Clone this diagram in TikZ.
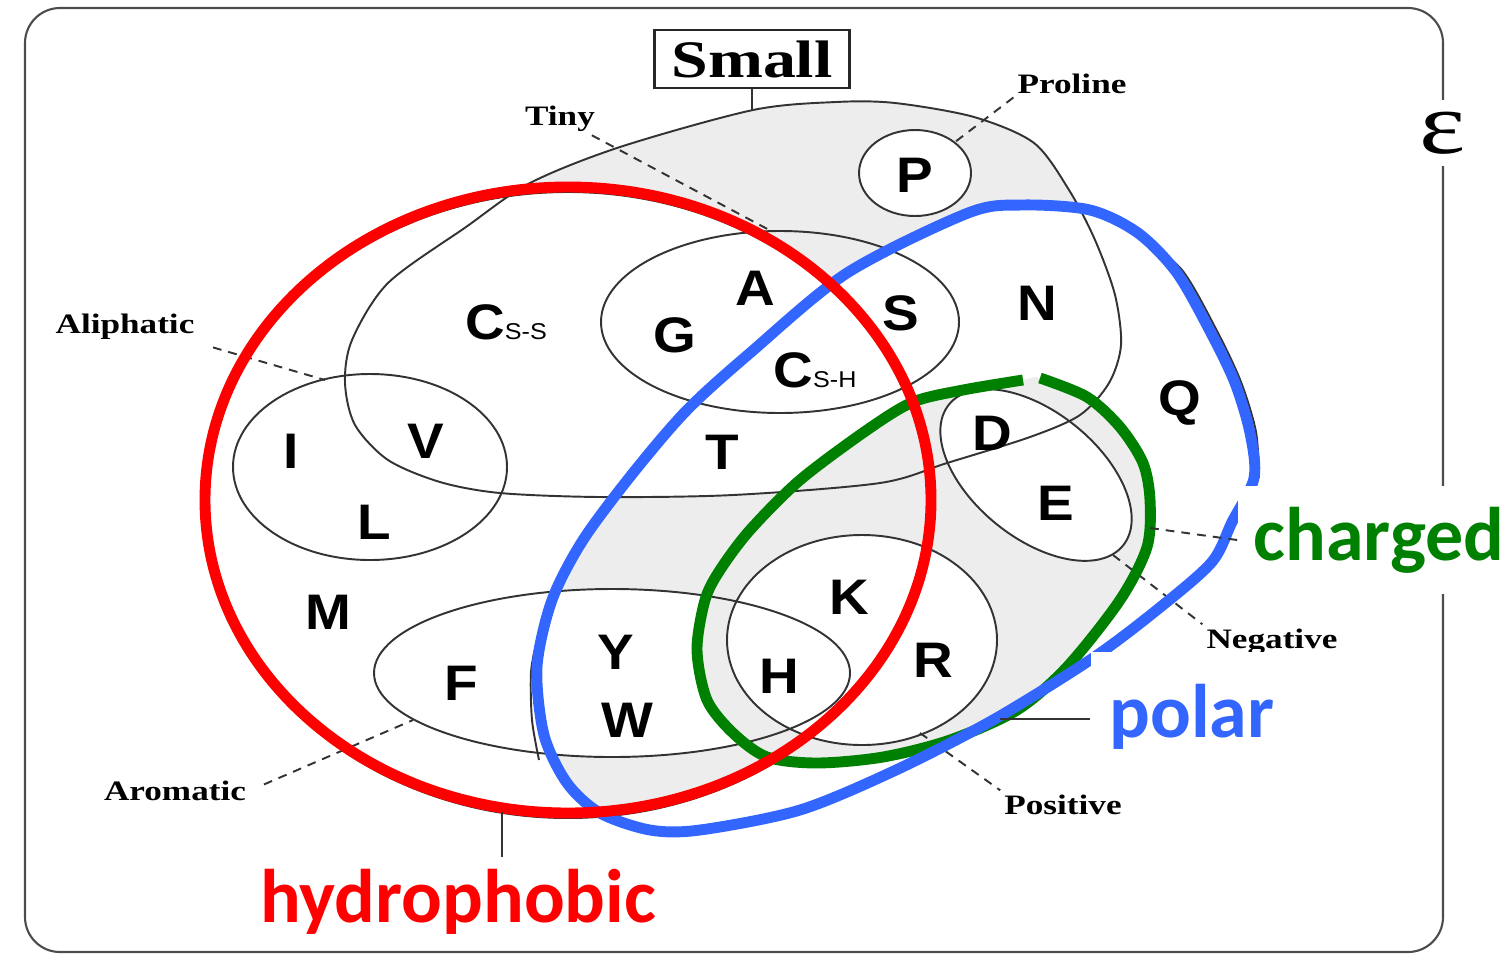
\documentclass[tikz,border=0pt]{standalone}
\usepackage{fontspec}
\usepackage{tikz}
\usetikzlibrary{positioning}
\setmainfont{Liberation Serif}
\newfontfamily\aafont[FakeStretch=1.1]{Liberation Sans}
\newfontfamily\lblfont[FakeStretch=1.25]{Liberation Serif}
\newfontfamily\tagfont{Carlito}
\definecolor{hphob}{HTML}{FF0000}
\definecolor{polcol}{HTML}{3366FF}
\definecolor{chcol}{HTML}{008000}
\definecolor{vacant}{HTML}{EDEDED}
\newcommand{\smallset}{plot[smooth cycle] coordinates {(753,110) (836,102) (895,103) (974,117) (1034,143)
  (1069,190) (1095,240) (1115,295) (1121,345) (1109,383) (1080,415) (1030,437) (947,463) (880,483)
  (733,495) (600,497) (500,493) (440,482) (388,460) (355,425) (345,383) (352,340) (388,283)
  (466,227) (530,183) (620,147)}}
\newcommand{\hydroset}{(568,500) ellipse [x radius=363, y radius=313]}
\newcommand{\polarset}{plot[smooth cycle] coordinates {(1022,205) (1090,210) (1138,233) (1177,273)
  (1211,333) (1235,383) (1250,433) (1254,478) (1232,522) (1211,563) (1153,613) (1090,660) (993,720)
  (896,770) (800,810) (700,830) (650,830) (600,813) (567,783) (544,735) (537,667) (552,600)
  (583,540) (633,473) (687,410) (750,353) (847,273) (968,213)}}
\newcommand{\chargedset}{plot[smooth cycle] coordinates {(1040,378) (1087,397) (1120,427) (1143,463)
  (1150,500) (1147,547) (1120,600) (1067,667) (1017,710) (950,740) (883,757) (817,763) (767,757)
  (733,733) (707,700) (697,650) (705,600) (720,570) (750,530) (800,480) (867,430) (913,402)
  (963,390) (1023,380)}}
\newcommand{\aromaticset}{(612,673) ellipse [x radius=238, y radius=84]}
\newcommand{\positiveset}{(862,640) ellipse [x radius=135, y radius=105]}
\newcommand{\prolineset}{(915,173) ellipse [x radius=56, y radius=43]}
\tikzset{
  frame/.style={draw=black!70, line width=0.6pt, rounded corners=0.35cm},
  outline/.style={draw=black!80, line width=0.55pt},
  guide/.style={draw=black!80, line width=0.55pt, dash pattern=on 2.5pt off 2pt},
  ring/.style={draw=#1, line width=3.1pt},
  aa/.style={font=\aafont\bfseries\fontsize{14.2}{17}\selectfont, inner sep=0pt},
  setname/.style={font=\lblfont\bfseries\fontsize{8}{10}\selectfont, inner sep=1pt},
  tag/.style={font=\tagfont\bfseries\fontsize{21.6}{26}\selectfont, text=#1, fill=white},
}
\begin{document}
\begin{tikzpicture}[x=0.01cm, y=-0.01cm]
  \useasboundingbox (0,0) rectangle (1510,954);
  \draw[frame] (25,8) rectangle (1443,952);
  % empty regions are shaded
  \fill[vacant] \smallset;
  \begin{scope}
    \clip \smallset;
    \fill[white] \hydroset;
    \fill[white] \polarset;
  \end{scope}
  \fill[white] \prolineset;
  \begin{scope}
    \clip \hydroset;
    \clip \polarset;
    \fill[vacant] (0,0) rectangle (1510,954);
    \fill[white] \smallset;
    \fill[white] \aromaticset;
  \end{scope}
  \fill[vacant] \chargedset;
  \fill[white] \positiveset;
  \fill[white, rotate around={-39:(1036,475)}] (1036,475) ellipse [x radius=112, y radius=63];
  % original set outlines
  \draw[outline] \smallset;
  \draw[outline] (780,322) ellipse [x radius=179, y radius=91];
  \draw[outline] \prolineset;
  \draw[outline] (370,467) ellipse [x radius=137, y radius=93];
  \draw[outline] \aromaticset;
  \draw[outline] \positiveset;
  \draw[outline, rotate around={-39:(1036,475)}] (1036,475) ellipse [x radius=112, y radius=63];
  \draw[outline] (568,505) ellipse [x radius=363, y radius=313];
  \draw[outline] plot[smooth] coordinates {(537,640) (531,672) (532,720) (539,760)};
  \draw[outline] plot[smooth] coordinates {(1140,236) (1182,270) (1217,331) (1241,382) (1256,432) (1259,478)};
  \coordinate (smalltop) at (752,110);
  \coordinate (tinyend) at (773,232);
  \coordinate (prolineend) at (955,142);
  \coordinate (aliphend) at (325,380);
  \coordinate (aromend) at (413,720);
  \coordinate (negend) at (1113,555);
  \coordinate (posend) at (920,733);
  \coordinate (chargedend) at (1150,528);
  \coordinate (polarend) at (1000,719);
  \coordinate (hydroend) at (502,812);
  % labels
  \node[draw=black!85, line width=0.7pt, minimum width=1.95cm, minimum height=0.58cm, inner sep=0pt,
        font=\lblfont\bfseries\fontsize{15}{18}\selectfont] (small) at (752,59) {Small};
  \node[setname, anchor=base] (tiny) at (560,125) {Tiny};
  \node[setname, anchor=base] (proline) at (1072,93) {Proline};
  \node[setname, anchor=base] (aliphatic) at (125,333) {Aliphatic};
  \node[setname, anchor=base] (aromatic) at (175,800) {Aromatic};
  \node[setname, anchor=base] (negative) at (1272,648) {Negative};
  \node[setname, anchor=base] (positive) at (1063,814) {Positive};
  \node[font=\lblfont\fontsize{25}{30}\selectfont, fill=white, inner xsep=1pt, minimum height=0.63cm]
        (universe) at (1443,133) {ε};
  \draw[outline] (small) -- (smalltop);
  \draw[guide] (tiny) -- (tinyend);
  \draw[guide] (proline.south west) -- (prolineend);
  \draw[guide, shorten <=1.5mm] (aliphatic.south east) -- (aliphend);
  \draw[guide, shorten <=1.5mm] (aromatic.east) -- (aromend);
  \draw[guide] (negend) -- (negative.north west);
  \draw[guide] (posend) -- (positive.north west);
  % hand drawn sets
  \draw[ring=chcol] plot[smooth] coordinates {(1040,378) (1087,397) (1120,427) (1143,463)
  (1150,500) (1147,547) (1120,600) (1067,667) (1017,710) (950,740) (883,757) (817,763) (767,757)
  (733,733) (707,700) (697,650) (705,600) (720,570) (750,530) (800,480) (867,430) (913,402)
  (963,390) (1023,380)};
  \draw[ring=polcol] \polarset;
  \draw[ring=hphob] \hydroset;
  % residues
  \node[aa] (P) at (915,175) {P};
  \node[aa] (A) at (755,288) {A};
  \node[aa] (G) at (675,335) {G};
  \node[aa] (S) at (901,313) {S};
  \node[aa] (N) at (1037,303) {N};
  \node[aa] (Css) at (506,322) {C{\fontsize{6.5}{8}\selectfont\mdseries S-S}};
  \node[aa] (Csh) at (815,370) {C{\fontsize{6.5}{8}\selectfont\mdseries S-H}};
  \node[aa] (Q) at (1180,403) {Q};
  \node[aa] (I) at (291,451) {I};
  \node[aa] (V) at (426,441) {V};
  \node[aa] (T) at (722,452) {T};
  \node[aa] (D) at (992,433) {D};
  \node[aa] (E) at (1056,503) {E};
  \node[aa] (L) at (374,522) {L};
  \node[aa] (K) at (849,597) {K};
  \node[aa] (M) at (328,612) {M};
  \node[aa] (R) at (933,660) {R};
  \node[aa] (Y) at (616,652) {Y};
  \node[aa] (F) at (461,683) {F};
  \node[aa] (H) at (779,676) {H};
  \node[aa] (W) at (627,720) {W};
  % coloured set names
  \node[tag=chcol, minimum height=1.07cm, inner xsep=0.16cm] (chargedtag) at (1379,540) {charged};
  \node[tag=polcol, minimum height=1.3cm, inner xsep=0.19cm] (polartag) at (1192,717) {polar};
  \node[tag=hphob] (hydrotag) at (458,902) {hydrophobic};
  \draw[guide] (chargedend) -- (chargedtag.west);
  \draw[outline] (polarend) -- (polarend -| polartag.west);
  \draw[outline] (hydroend) -- (hydroend |- hydrotag.north);
\end{tikzpicture}
\end{document}
